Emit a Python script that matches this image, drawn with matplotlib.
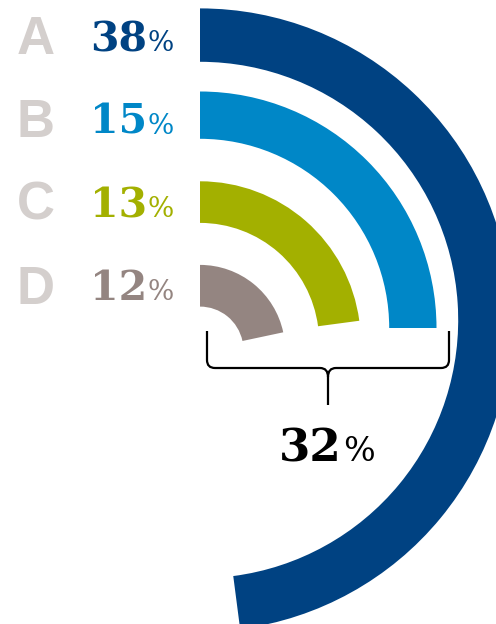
import matplotlib
matplotlib.use("Agg")
import matplotlib.pyplot as plt
from matplotlib.patches import Wedge, PathPatch
from matplotlib.path import Path

# ---- data ----
labels = ["A", "B", "C", "D"]
values = [38, 15, 13, 12]
arc_degrees = [172.6, 90.0, 82.4, 78.0]   # sweep of each arc, clockwise from 12 o'clock
bracket_label = "32%"

# ---- styles / layout ----
colors = ["#004282", "#0087c7", "#a3b000", "#948581"]
letter_color = "#d4cfcd"
centers_y = [320, 328, 342, 350]
outer_r = [311.6, 236.5, 160.7, 85.1]
inner_r = [258.2, 189.2, 119.1, 43.4]
center_x = 200
row_baseline = [51, 134, 217, 300]
letter_baseline = [54, 137, 220, 304]

W, H = 496, 624
fig = plt.figure(figsize=(W / 100, H / 100), dpi=100)
ax = fig.add_axes([0, 0, 1, 1])
ax.set_xlim(0, W)
ax.set_ylim(H, 0)
ax.set_aspect("equal")
ax.axis("off")

for i, lab in enumerate(labels):
    w = Wedge((center_x, centers_y[i]), outer_r[i], -90, arc_degrees[i] - 90,
              width=outer_r[i] - inner_r[i], facecolor=colors[i], edgecolor="none")
    ax.add_patch(w)
    ax.text(35.5, letter_baseline[i], lab, ha="center", va="baseline",
            fontsize=38, fontweight="bold", family="Liberation Sans", color=letter_color)
    ax.text(147, row_baseline[i], f"{values[i]}", ha="right", va="baseline",
            fontsize=29.5, fontweight="bold", family="DejaVu Serif", color=colors[i])
    ax.text(147.5, row_baseline[i], "%", ha="left", va="baseline",
            fontsize=20, family="DejaVu Serif", color=colors[i])

# bracket
xl, xr, xm = 207, 449, 328
ytop, ybar, ybot = 331, 368, 405
verts = [
    (xl, ytop), (xl, ybar - 8), (xl, ybar), (xl + 8, ybar),
    (xm - 8, ybar), (xm, ybar), (xm, ybar + 9),
    (xm, ybot),
]
codes = [Path.MOVETO, Path.LINETO, Path.CURVE3, Path.CURVE3,
         Path.LINETO, Path.CURVE3, Path.CURVE3, Path.LINETO]
ax.add_patch(PathPatch(Path(verts, codes), fill=False, lw=1.6, edgecolor="black",
                       capstyle="butt"))
verts2 = [
    (xr, ytop), (xr, ybar - 8), (xr, ybar), (xr - 8, ybar),
    (xm + 8, ybar), (xm, ybar), (xm, ybar + 9),
]
codes2 = [Path.MOVETO, Path.LINETO, Path.CURVE3, Path.CURVE3,
          Path.LINETO, Path.CURVE3, Path.CURVE3]
ax.add_patch(PathPatch(Path(verts2, codes2), fill=False, lw=1.6, edgecolor="black"))

num = bracket_label.rstrip("%")
ax.text(342, 461, num, ha="right", va="baseline", fontsize=32.5,
        fontweight="bold", family="DejaVu Serif", color="black")
ax.text(343, 461, "%", ha="left", va="baseline", fontsize=24,
        family="DejaVu Serif", color="black")

fig.savefig("out.png", dpi=100, facecolor="white")
